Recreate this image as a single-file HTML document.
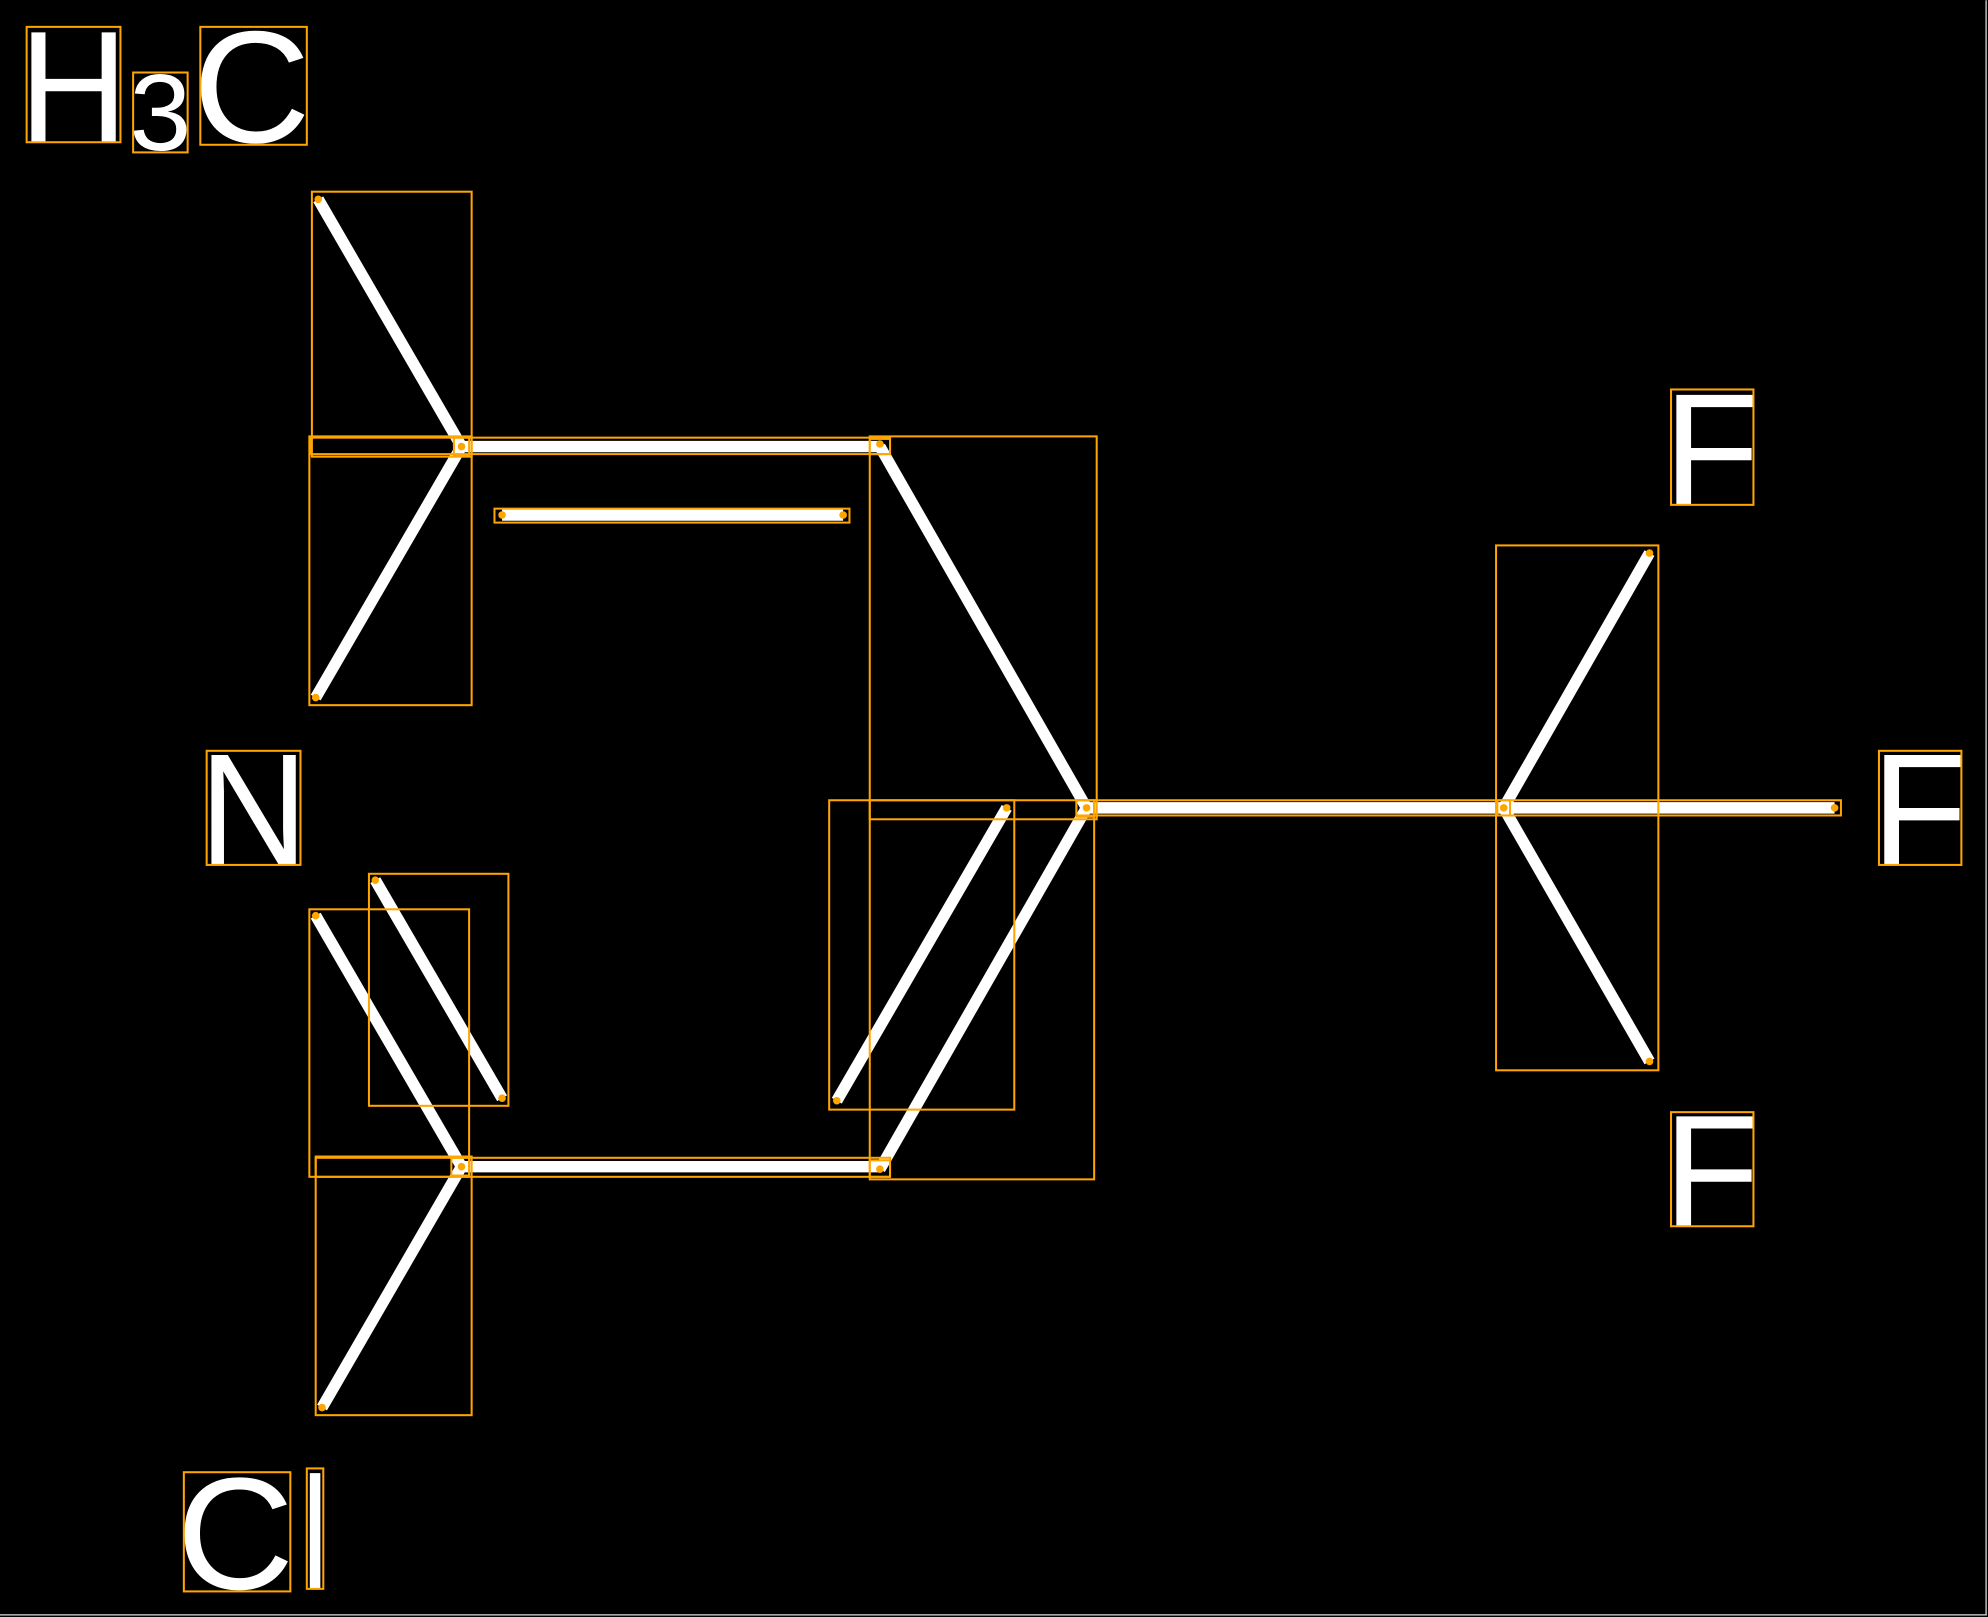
<!DOCTYPE html>
<html><head><meta charset="utf-8"><style>
html,body{margin:0;padding:0;background:#000;}
svg{display:block;}
text{font-family:"Liberation Sans",sans-serif;fill:#fff;}
</style></head><body>
<svg width="1988" height="1617" viewBox="0 0 1568 1275" xmlns="http://www.w3.org/2000/svg">
<rect x="0" y="0" width="1568" height="1275" fill="#000"/>
<line x1="1566.5" y1="0" x2="1566.5" y2="1274" stroke="#ddd" stroke-width="1"/>
<line x1="0" y1="1273.5" x2="1567" y2="1273.5" stroke="#ddd" stroke-width="1"/>
<g stroke="#fff" stroke-width="9" stroke-linecap="butt">
<line x1="251" y1="157" x2="364" y2="352"/>
<line x1="364" y1="352" x2="694" y2="352"/>
<line x1="396" y1="406" x2="665" y2="406"/>
<line x1="364" y1="352" x2="249" y2="550"/>
<line x1="694" y1="352" x2="857" y2="637"/>
<line x1="857" y1="637" x2="1447" y2="637"/>
<line x1="1186" y1="637" x2="1301" y2="436"/>
<line x1="1186" y1="637" x2="1301" y2="837"/>
<line x1="857" y1="637" x2="694" y2="922"/>
<line x1="794" y1="637" x2="660" y2="868"/>
<line x1="364" y1="920" x2="694" y2="920"/>
<line x1="249" y1="722" x2="364" y2="920"/>
<line x1="296" y1="694" x2="396" y2="866"/>
<line x1="364" y1="920" x2="254" y2="1110"/>
</g>
<g font-size="126">
<text x="15" y="112" textLength="86" lengthAdjust="spacingAndGlyphs">H</text>
<text x="102" y="118" font-size="86" textLength="49" lengthAdjust="spacingAndGlyphs">3</text>
<text x="152" y="112" textLength="93" lengthAdjust="spacingAndGlyphs">C</text>
<text x="157" y="682" textLength="86" lengthAdjust="spacingAndGlyphs">N</text>
<text x="1312" y="398" textLength="76" lengthAdjust="spacingAndGlyphs">F</text>
<text x="1476" y="682" textLength="76" lengthAdjust="spacingAndGlyphs">F</text>
<text x="1312" y="967" textLength="76" lengthAdjust="spacingAndGlyphs">F</text>
<text x="139" y="1253" textLength="93" lengthAdjust="spacingAndGlyphs">C</text>
<text x="238" y="1253" textLength="21" lengthAdjust="spacingAndGlyphs">l</text>
</g>
<g fill="none" stroke="#FFA500" stroke-width="1.6">
<rect x="21" y="21" width="74" height="91"/>
<rect x="105" y="57" width="43" height="63"/>
<rect x="158" y="21" width="84" height="93"/>
<rect x="246" y="151" width="126" height="209"/>
<rect x="245" y="345" width="457" height="13"/>
<rect x="390" y="401" width="280" height="11"/>
<rect x="244" y="344" width="128" height="212"/>
<rect x="686" y="344" width="179" height="302"/>
<rect x="849" y="631" width="603" height="12"/>
<rect x="1180" y="430" width="128" height="414"/>
<rect x="686" y="631" width="177" height="299"/>
<rect x="654" y="631" width="146" height="244"/>
<rect x="249" y="913" width="453" height="15"/>
<rect x="244" y="717" width="126" height="211"/>
<rect x="291" y="689" width="110" height="183"/>
<rect x="249" y="912" width="123" height="204"/>
<rect x="163" y="592" width="74" height="90"/>
<rect x="1318" y="307" width="65" height="91"/>
<rect x="1482" y="592" width="65" height="90"/>
<rect x="1318" y="877" width="65" height="90"/>
<rect x="145" y="1161" width="84" height="94"/>
<rect x="242" y="1158" width="13" height="95"/>
<rect x="358" y="345" width="12" height="14"/>
<rect x="686" y="346" width="16" height="12"/>
<rect x="849" y="631" width="14" height="13"/>
<rect x="1181" y="631" width="10" height="12"/>
<rect x="356" y="913" width="14" height="14"/>
<rect x="686" y="915" width="16" height="13"/>
</g>
<g fill="#FFA500">
<circle cx="251" cy="157" r="3"/><circle cx="364" cy="352" r="3"/><circle cx="694" cy="350" r="3"/>
<circle cx="396" cy="406" r="3"/><circle cx="665" cy="406" r="3"/><circle cx="249" cy="550" r="3"/>
<circle cx="857" cy="637" r="3"/><circle cx="1447" cy="637" r="3"/><circle cx="1186" cy="637" r="3"/>
<circle cx="1301" cy="436" r="3"/><circle cx="1301" cy="837" r="3"/><circle cx="694" cy="922" r="3"/>
<circle cx="794" cy="637" r="3"/><circle cx="660" cy="868" r="3"/><circle cx="364" cy="920" r="3"/>
<circle cx="249" cy="722" r="3"/><circle cx="296" cy="694" r="3"/><circle cx="396" cy="866" r="3"/>
<circle cx="254" cy="1110" r="3"/>
</g>
</svg>
</body></html>
